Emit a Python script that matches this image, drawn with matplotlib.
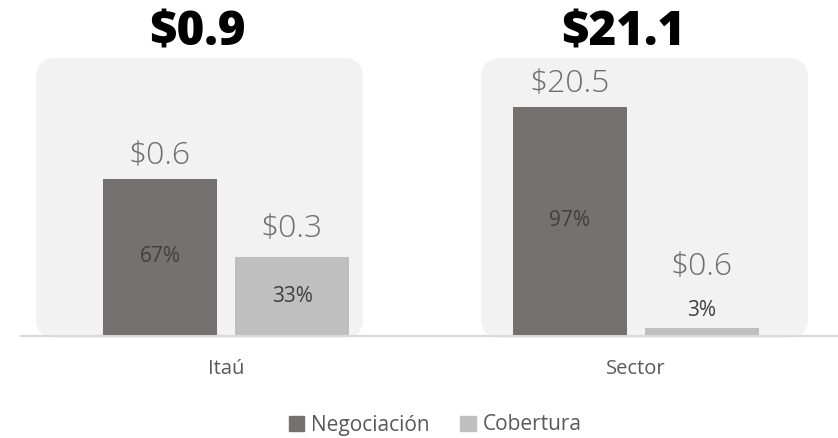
import matplotlib
matplotlib.use('Agg')
import matplotlib.pyplot as plt
from matplotlib.patches import FancyBboxPatch
from matplotlib.lines import Line2D

plt.rcParams['font.family'] = ['Open Sans', 'DejaVu Sans']

# datos
groups = ['Itaú', 'Sector']
totals = [0.9, 21.1]
negociacion = [0.6, 20.5]
cobertura = [0.3, 0.6]
pct_neg = [67, 97]
pct_cob = [33, 3]
series_names = ['Negociación', 'Cobertura']

c_dark = '#767171'
c_light = '#bfbfbf'
c_panel = '#f2f2f2'
c_value = '#6f6f6f'
c_pct = '#404040'
c_text = '#595959'

W, H = 838, 438
fig = plt.figure(figsize=(W / 100, H / 100), dpi=100)

def fx(px):
    return px / W

def fy(py):
    # py medido desde arriba
    return 1 - py / H

# paneles redondeados (en pulgadas)
for left, right in [(36, 363), (481, 808)]:
    top, bottom = 58, 338
    p = FancyBboxPatch((left / 100, (H - bottom) / 100), (right - left) / 100,
                       (bottom - top) / 100, boxstyle='round,pad=0,rounding_size=0.2',
                       transform=fig.dpi_scale_trans, facecolor=c_panel,
                       edgecolor='none', zorder=-2)
    fig.patches.append(p)

# linea base
fig.add_artist(Line2D([fx(21), 1], [fy(336), fy(336)], color='#d9d9d9', lw=1.5, zorder=-1))

base_px, top_px = 335, 58
bar_px = 132
axes_left = [160 - 0.7 * bar_px, 570 - 0.7 * bar_px]
ylims = [0.6 * (base_px - top_px) / 156, 20.5 * (base_px - top_px) / 228]
title_x = [197, 623]

for i, g in enumerate(groups):
    ax = fig.add_axes([fx(axes_left[i]), fy(base_px), fx(2.4 * bar_px), (base_px - top_px) / H])
    ax.set_zorder(2)
    ax.set_xlim(-0.7, 1.7)
    ax.set_ylim(0, ylims[i])
    ax.patch.set_visible(False)
    for s in ax.spines.values():
        s.set_visible(False)
    ax.set_yticks([])
    ax.set_xticks([0.5])
    ax.set_xticklabels([g], fontsize=14.5, color=c_text)
    ax.tick_params(axis='x', length=0, pad=17)

    vals = [negociacion[i], cobertura[i]]
    pcts = [pct_neg[i], pct_cob[i]]
    cols = [c_dark, c_light]
    bars = ax.bar([0, 1], vals, width=114 / bar_px, color=cols, zorder=2)
    for j, b in enumerate(bars):
        v = vals[j]
        h = b.get_height()
        xc = b.get_x() + b.get_width() / 2
        if h / ylims[i] > 0.1:
            ax.text(xc, h / 2, f'{pcts[j]}%', ha='center', va='center',
                    fontsize=15, color=c_pct)
            off = 11 if j == 0 else 14
        else:
            ax.annotate(f'{pcts[j]}%', (xc, h), xytext=(0, 9), textcoords='offset points',
                        ha='center', va='baseline', fontsize=15, color=c_pct)
            off = 38
        ax.annotate(f'${v:.1f}', (xc, h), xytext=(0, off), textcoords='offset points',
                    ha='center', va='baseline', fontsize=23, fontweight='light',
                    color=c_value)

    fig.text(fx(title_x[i]), fy(33), f'${totals[i]:.1f}', ha='center', va='center',
             fontsize=34, fontweight='heavy', color='black')

# leyenda
handles = [plt.Rectangle((0, 0), 1, 1, color=c_dark), plt.Rectangle((0, 0), 1, 1, color=c_light)]
fig.legend(handles, series_names, loc='center', bbox_to_anchor=(fx(435), fy(425)), ncol=2,
           frameon=False, fontsize=15, labelcolor=c_text, handlelength=0.75, handleheight=0.75,
           handletextpad=0.3, columnspacing=1.5)

fig.savefig('out.png', dpi=100)
